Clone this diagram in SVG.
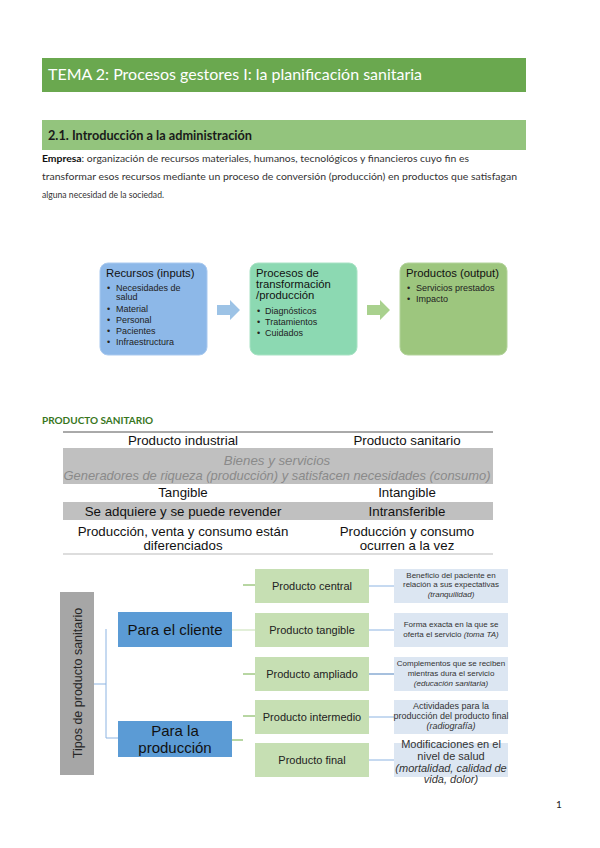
<svg xmlns="http://www.w3.org/2000/svg" width="600" height="848" viewBox="0 0 600 848">
<defs>
<style>
.ar{font-family:"Liberation Sans",Arial,sans-serif}
.la{font-family:Lato,"Open Sans",sans-serif}
.ft{font-size:11.3px;fill:#111}
.fb{font-size:9px;fill:#222}
.tb{font-size:13.3px;fill:#111;text-anchor:middle}
.tg{font-size:13.3px;fill:#8a8a8a;text-anchor:middle;font-style:italic}
.pb{fill:#c6dfb3}
.pt{font-size:11px;fill:#222;text-anchor:middle}
.db{fill:#dce6f2}
.dt{fill:#333;text-anchor:middle}
.d8{font-size:8px}
.d9{font-size:9px}
.d11{font-size:11px}
.gl{stroke:#70ad47;stroke-width:1;fill:none}
.bl{stroke:#8db4e2;stroke-width:1;fill:none}
</style>
</defs>
<rect width="600" height="848" fill="#ffffff"/>

<g id="title">
<rect x="42" y="58" width="484" height="34" fill="#6aa84f"/>
<text x="48" y="80" class="la" font-size="16" fill="#ffffff" textLength="374" lengthAdjust="spacingAndGlyphs">TEMA 2: Procesos gestores I: la planificación sanitaria</text>
</g>

<g id="section">
<rect x="42" y="120" width="484" height="30" fill="#93c47d"/>
<text x="48" y="140" class="la" font-size="13" font-weight="bold" fill="#1a1a1a" textLength="204" lengthAdjust="spacingAndGlyphs">2.1. Introducción a la administración</text>
</g>

<g id="paragraph" class="la" font-size="10" fill="#333333">
<text x="42" y="162" textLength="427" lengthAdjust="spacingAndGlyphs"><tspan font-weight="bold" fill="#111">Empresa</tspan>: organización de recursos materiales, humanos, tecnológicos y financieros cuyo fin es</text>
<text x="42" y="180" textLength="475" lengthAdjust="spacingAndGlyphs">transformar esos recursos mediante un proceso de conversión (producción) en productos que satisfagan</text>
<text x="42" y="198" textLength="122" lengthAdjust="spacingAndGlyphs">alguna necesidad de la sociedad.</text>
</g>

<g id="flow-connectors">
<path d="M217,305 H230 V300 L240,310 L230,320 V315 H217 Z" fill="#9dc3e6"/>
<path d="M367,305 H380 V300 L390,310 L380,320 V315 H367 Z" fill="#a9d18e"/>
</g>

<g id="recursos">
<rect x="100" y="263" width="107" height="92" rx="8" fill="#8db8e8" stroke="#a9c9ef" stroke-width="1"/>
<text x="106" y="277" class="ar ft">Recursos (inputs)</text>
<g class="ar fb">
<text x="107" y="291">•</text><text x="116" y="291">Necesidades de</text>
<text x="116" y="300">salud</text>
<text x="107" y="312">•</text><text x="116" y="312">Material</text>
<text x="107" y="323">•</text><text x="116" y="323">Personal</text>
<text x="107" y="334">•</text><text x="116" y="334">Pacientes</text>
<text x="107" y="345">•</text><text x="116" y="345">Infraestructura</text>
</g>
</g>

<g id="procesos">
<rect x="250" y="263" width="107" height="92" rx="8" fill="#8cd9b2" stroke="#a8e2c4" stroke-width="1"/>
<g class="ar ft">
<text x="256" y="277">Procesos de</text>
<text x="256" y="288">transformación</text>
<text x="256" y="299">/producción</text>
</g>
<g class="ar fb">
<text x="257" y="314">•</text><text x="265" y="314">Diagnósticos</text>
<text x="257" y="325">•</text><text x="265" y="325">Tratamientos</text>
<text x="257" y="336">•</text><text x="265" y="336">Cuidados</text>
</g>
</g>

<g id="productos">
<rect x="400" y="263" width="107" height="92" rx="8" fill="#9dc67e" stroke="#b3d39b" stroke-width="1"/>
<text x="406" y="277" class="ar ft">Productos (output)</text>
<g class="ar fb">
<text x="407" y="291">•</text><text x="416" y="291">Servicios prestados</text>
<text x="407" y="302">•</text><text x="416" y="302">Impacto</text>
</g>
</g>

<g id="tabla">
<text x="42" y="424" class="la" font-size="10" font-weight="bold" fill="#38761d">PRODUCTO SANITARIO</text>
<line x1="63" y1="432" x2="493" y2="432" stroke="#555" stroke-width="1"/>
<rect x="63" y="448" width="430" height="36" fill="#c0c0c0"/>
<rect x="63" y="502" width="430" height="18" fill="#c0c0c0"/>
<line x1="63" y1="554" x2="493" y2="554" stroke="#bbb" stroke-width="1"/>
<g class="ar">
<text x="183" y="445" class="tb">Producto industrial</text>
<text x="407" y="445" class="tb">Producto sanitario</text>
<text x="277" y="465" class="tg">Bienes y servicios</text>
<text x="277" y="480" class="tg" textLength="427" lengthAdjust="spacingAndGlyphs">Generadores de riqueza (producción) y satisfacen necesidades (consumo)</text>
<text x="183" y="497" class="tb">Tangible</text>
<text x="407" y="497" class="tb">Intangible</text>
<text x="183" y="516" class="tb">Se adquiere y se puede revender</text>
<text x="407" y="516" class="tb">Intransferible</text>
<text x="183" y="536" class="tb">Producción, venta y consumo están</text>
<text x="183" y="550" class="tb">diferenciados</text>
<text x="407" y="536" class="tb">Producción y consumo</text>
<text x="407" y="550" class="tb">ocurren a la vez</text>
</g>
</g>

<g id="connectors">
<path class="bl" d="M94,684 H106 M106,629 V738 H118"/>
<line x1="232" y1="630" x2="255" y2="630" stroke="#c6dfb3" stroke-width="1"/>
<line class="gl" x1="232" y1="740" x2="243" y2="740"/>
<line class="gl" x1="243" y1="585" x2="255" y2="585"/>
<line class="gl" x1="243" y1="674" x2="255" y2="674"/>
<line class="gl" x1="243" y1="716" x2="255" y2="716"/>
<line class="bl" x1="369" y1="586" x2="394" y2="586"/>
<line class="bl" x1="369" y1="630" x2="394" y2="630"/>
<line x1="369" y1="674" x2="394" y2="674" stroke="#4f81bd" stroke-width="1"/>
<line class="bl" x1="369" y1="717" x2="394" y2="717"/>
<line class="bl" x1="369" y1="760" x2="394" y2="760"/>
</g>

<g id="tipos">
<rect x="60" y="592" width="34" height="183" fill="#a6a6a6"/>
<text transform="translate(82,683) rotate(-90)" class="ar" font-size="12.5" fill="#262626" text-anchor="middle">Tipos de producto sanitario</text>
</g>

<g id="para-cliente">
<rect x="118" y="612" width="114" height="35" fill="#5b9bd5"/>
<text x="175" y="635" class="ar" font-size="15" fill="#111" text-anchor="middle">Para el cliente</text>
</g>

<g id="para-produccion">
<rect x="118" y="721" width="114" height="36" fill="#5b9bd5"/>
<text x="175" y="736" class="ar" font-size="15" fill="#111" text-anchor="middle">Para la</text>
<text x="175" y="753" class="ar" font-size="15" fill="#111" text-anchor="middle">producción</text>
</g>

<g id="producto-central">
<rect class="pb" x="255" y="569" width="114" height="34"/>
<text x="312" y="590" class="ar pt">Producto central</text>
</g>
<g id="producto-tangible">
<rect class="pb" x="255" y="613" width="114" height="34"/>
<text x="312" y="634" class="ar pt">Producto tangible</text>
</g>
<g id="producto-ampliado">
<rect class="pb" x="255" y="657" width="114" height="34"/>
<text x="312" y="678" class="ar pt">Producto ampliado</text>
</g>
<g id="producto-intermedio">
<rect class="pb" x="255" y="700" width="114" height="34"/>
<text x="312" y="721" class="ar pt">Producto intermedio</text>
</g>
<g id="producto-final">
<rect class="pb" x="255" y="743" width="114" height="34"/>
<text x="312" y="764" class="ar pt">Producto final</text>
</g>

<g id="desc-central">
<rect class="db" x="394" y="569" width="114" height="34"/>
<g class="ar dt d8">
<text x="451" y="578">Beneficio del paciente en</text>
<text x="451" y="587">relación a sus expectativas</text>
<text x="451" y="597" font-style="italic">(tranquilidad)</text>
</g>
</g>
<g id="desc-tangible">
<rect class="db" x="394" y="613" width="114" height="34"/>
<g class="ar dt d8">
<text x="451" y="627">Forma exacta en la que se</text>
<text x="451" y="637">oferta el servicio <tspan font-style="italic">(toma TA)</tspan></text>
</g>
</g>
<g id="desc-ampliado">
<rect class="db" x="394" y="657" width="114" height="34"/>
<g class="ar dt d8">
<text x="451" y="666">Complementos que se reciben</text>
<text x="451" y="676">mientras dura el servicio</text>
<text x="451" y="686" font-style="italic">(educación sanitaria)</text>
</g>
</g>
<g id="desc-intermedio">
<rect class="db" x="394" y="700" width="114" height="34"/>
<g class="ar dt d9">
<text x="451" y="709">Actividades para la</text>
<text x="451" y="719">producción del producto final</text>
<text x="451" y="729" font-style="italic">(radiografía)</text>
</g>
</g>
<g id="desc-final">
<rect class="db" x="394" y="743" width="114" height="34"/>
<g class="ar dt d11">
<text x="451" y="748">Modificaciones en el</text>
<text x="451" y="760">nivel de salud</text>
<text x="451" y="772" font-style="italic">(mortalidad, calidad de</text>
<text x="451" y="783" font-style="italic">vida, dolor)</text>
</g>
</g>

<text x="556" y="808" class="la" font-size="10" fill="#222">1</text>
</svg>
